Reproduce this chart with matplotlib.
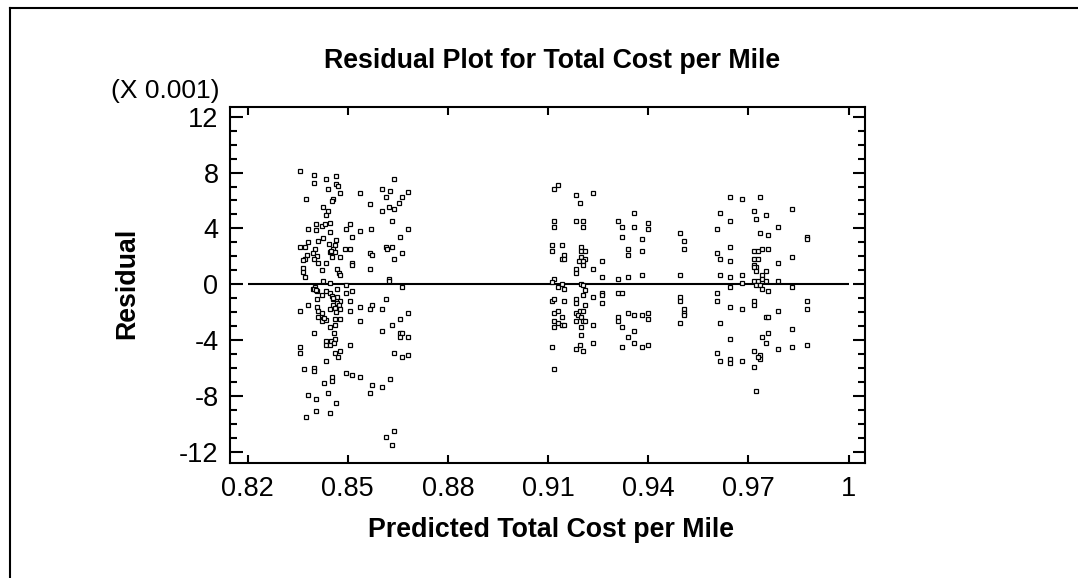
import matplotlib
matplotlib.use('Agg')
import matplotlib.pyplot as plt
from matplotlib.lines import Line2D
from matplotlib.ticker import MultipleLocator

# predicted total cost per mile and residuals (in units of 0.001), by band of fitted values
pred_low = [
    0.8357, 0.8399, 0.8399, 0.8434, 0.8464, 0.8464, 0.8472, 0.8440, 0.8477, 0.8639,
    0.8536, 0.8604, 0.8627, 0.8680, 0.8662, 0.8615, 0.8374, 0.8457, 0.8452, 0.8654,
    0.8566, 0.8427, 0.8440, 0.8434, 0.8603, 0.8625, 0.8639, 0.8633, 0.8406, 0.8405,
    0.8381, 0.8423, 0.8433, 0.8447, 0.8447, 0.8507, 0.8494, 0.8537, 0.8570, 0.8680,
    0.8513, 0.8657, 0.8427, 0.8412, 0.8380, 0.8464, 0.8443, 0.8461, 0.8357, 0.8371,
    0.8493, 0.8507, 0.8615, 0.8633, 0.8617, 0.8403, 0.8397, 0.8457, 0.8447, 0.8463,
    0.8566, 0.8574, 0.8662, 0.8377, 0.8371, 0.8367, 0.8408, 0.8398, 0.8452, 0.8477,
    0.8639, 0.8411, 0.8434, 0.8513, 0.8512, 0.8367, 0.8367, 0.8372, 0.8422, 0.8469,
    0.8475, 0.8477, 0.8566, 0.8427, 0.8447, 0.8625, 0.8625, 0.8450,
    0.8494, 0.8663, 0.8397, 0.8403, 0.8407, 0.8434, 0.8447, 0.8467, 0.8494, 0.8513,
    0.8423, 0.8452, 0.8467, 0.8457, 0.8477, 0.8467, 0.8409, 0.8507, 0.8615, 0.8381,
    0.8357, 0.8408, 0.8411, 0.8423, 0.8457, 0.8475, 0.8467, 0.8477, 0.8447, 0.8537,
    0.8567, 0.8573, 0.8603, 0.8507, 0.8680, 0.8411, 0.8427, 0.8423, 0.8435, 0.8477,
    0.8463, 0.8537, 0.8657, 0.8633, 0.8447, 0.8463, 0.8399, 0.8458, 0.8603, 0.8657,
    0.8663, 0.8657, 0.8680, 0.8463, 0.8451, 0.8435, 0.8435, 0.8447, 0.8460, 0.8507,
    0.8357, 0.8357, 0.8477, 0.8463, 0.8470, 0.8639, 0.8663, 0.8680, 0.8435, 0.8369,
    0.8399, 0.8399, 0.8494, 0.8513, 0.8537, 0.8453, 0.8453, 0.8428, 0.8627, 0.8573,
    0.8603, 0.8567, 0.8381, 0.8441, 0.8405, 0.8465, 0.8405, 0.8447, 0.8375, 0.8639,
    0.8615, 0.8633, 0.8400, 0.8404, 0.8455, 0.8461, 0.8429, 0.8465,
]
resid_low = [
    8.14, 7.85, 7.28, 7.56, 7.73, 7.16, 7.02, 6.85, 6.56, 7.54,
    6.56, 6.85, 6.71, 6.59, 6.28, 6.28, 6.11, 6.13, 5.99, 5.85,
    5.73, 5.56, 5.27, 4.99, 5.25, 5.56, 5.42, 4.56, 4.32, 3.89,
    3.94, 4.18, 4.32, 4.42, 3.77, 4.30, 3.96, 3.84, 3.99, 3.99,
    3.39, 3.41, 3.32, 3.13, 3.03, 3.18, 2.87, 2.84, 2.70, 2.70,
    2.56, 2.56, 2.65, 2.70, 2.56, 2.51, 2.27, 2.51, 2.32, 2.29,
    2.27, 2.10, 2.27, 2.10, 1.84, 1.75, 2.03, 1.79, 1.98, 1.98,
    1.84, 1.55, 1.55, 1.55, 1.39, 1.17, 0.89, 0.50, 1.03, 1.13,
    0.79, 0.65, 1.13, 0.27, 0.12, 0.41, 0.27, 2.40,
    -0.02, -0.16, -0.35, -0.21, -0.45, -0.45, -0.59, -0.30, -0.59, -0.45,
    -0.73, -0.83, -0.88, -1.07, -1.16, -1.31, -1.02, -1.16, -1.02, -1.45,
    -1.88, -1.59, -1.88, -2.02, -1.50, -1.50, -1.78, -1.78, -1.74, -1.59,
    -1.74, -1.45, -1.74, -1.88, -2.02, -2.31, -2.45, -2.64, -2.55, -2.45,
    -2.50, -2.59, -2.45, -2.88, -3.02, -2.88, -3.45, -3.45, -3.31, -3.45,
    -3.45, -3.74, -3.74, -3.88, -4.03, -4.03, -4.31, -4.31, -4.17, -4.31,
    -4.45, -4.88, -4.74, -4.88, -5.17, -4.88, -5.17, -5.03, -5.46, -6.03,
    -5.98, -6.17, -6.32, -6.46, -6.60, -6.60, -6.89, -7.03, -6.74, -7.17,
    -7.32, -7.75, -7.89, -7.75, -8.17, -8.46, -9.03, -9.18, -9.46, -10.46,
    -10.89, -11.47, -0.30, -0.40, -0.98, -1.70, -2.40, -2.00,
]

pred_mid = [
    0.9117, 0.9129, 0.9183, 0.9195, 0.9236, 0.9357, 0.9117, 0.9117, 0.9183, 0.9206,
    0.9206, 0.9309, 0.9321, 0.9357, 0.9399, 0.9399, 0.9321, 0.9381, 0.9111, 0.9111,
    0.9141, 0.9200, 0.9200, 0.9212, 0.9147, 0.9141, 0.9147, 0.9200, 0.9212, 0.9194,
    0.9206, 0.9206, 0.9261, 0.9339, 0.9339, 0.9381, 0.9183, 0.9183, 0.9236, 0.9261,
    0.9309, 0.9339, 0.9381, 0.9117, 0.9111,
    0.9129, 0.9141, 0.9147, 0.9200, 0.9206, 0.9212, 0.9206, 0.9236, 0.9261, 0.9261,
    0.9309, 0.9321, 0.9111, 0.9117, 0.9147, 0.9183, 0.9183, 0.9212, 0.9261, 0.9117,
    0.9129, 0.9141, 0.9183, 0.9189, 0.9195, 0.9206, 0.9200, 0.9117, 0.9117, 0.9129,
    0.9141, 0.9147, 0.9183, 0.9206, 0.9212, 0.9200, 0.9236, 0.9309, 0.9309, 0.9321,
    0.9339, 0.9357, 0.9381, 0.9399, 0.9399, 0.9200, 0.9357, 0.9339, 0.9111, 0.9183,
    0.9195, 0.9206, 0.9236, 0.9321, 0.9357, 0.9381, 0.9399, 0.9117,
]
resid_mid = [
    6.85, 7.14, 6.42, 5.85, 6.56, 5.13, 4.56, 4.13, 4.56, 4.56,
    4.13, 4.56, 4.13, 4.13, 4.42, 3.99, 3.41, 3.27, 2.84, 2.41,
    2.84, 2.70, 2.41, 2.41, 2.13, 1.84, 1.84, 1.98, 1.84, 1.70,
    1.70, 1.41, 1.70, 2.56, 2.13, 2.41, 1.13, 0.84, 1.13, 0.55,
    0.41, 0.55, 0.70, 0.41, 0.17,
    -0.16, 0.03, -0.30, 0.03, -0.02, -0.40, -0.73, -0.88, -0.59, -0.73,
    -0.59, -0.59, -1.16, -1.02, -1.16, -1.02, -1.35, -1.45, -1.31, -2.02,
    -1.88, -2.31, -2.02, -2.17, -1.88, -1.88, -2.31, -2.59, -3.02, -2.74,
    -2.88, -2.88, -2.59, -2.59, -2.59, -3.02, -2.88, -2.31, -2.59, -3.02,
    -2.02, -2.17, -2.17, -2.02, -2.45, -3.60, -3.31, -3.74, -4.45, -4.60,
    -4.31, -4.74, -4.17, -4.45, -4.17, -4.45, -4.31, -6.03,
]

pred_high = [
    0.9644, 0.9680, 0.9734, 0.9614, 0.9644, 0.9716, 0.9722, 0.9752, 0.9830, 0.9494,
    0.9506, 0.9506, 0.9607, 0.9734, 0.9758, 0.9788, 0.9876, 0.9876, 0.9644, 0.9607,
    0.9614, 0.9644, 0.9716, 0.9728, 0.9740, 0.9758, 0.9716, 0.9728, 0.9716, 0.9722,
    0.9716, 0.9788, 0.9830, 0.9752, 0.9722, 0.9740, 0.9494, 0.9614, 0.9644, 0.9680,
    0.9680, 0.9716, 0.9728, 0.9740, 0.9752, 0.9788, 0.9722, 0.9734,
    0.9644, 0.9740, 0.9758, 0.9830, 0.9494, 0.9494, 0.9607, 0.9607, 0.9644, 0.9680,
    0.9716, 0.9716, 0.9788, 0.9876, 0.9876, 0.9506, 0.9506, 0.9506, 0.9494, 0.9614,
    0.9752, 0.9758, 0.9830, 0.9644, 0.9758, 0.9740, 0.9752, 0.9788, 0.9830, 0.9876,
    0.9607, 0.9716, 0.9734, 0.9734, 0.9728, 0.9614, 0.9644, 0.9644, 0.9680, 0.9716,
    0.9722,
]
resid_high = [
    6.28, 6.11, 6.28, 5.13, 4.56, 5.25, 4.68, 4.99, 5.42, 3.70,
    3.13, 2.56, 3.99, 3.70, 3.56, 4.13, 3.42, 3.27, 2.70, 2.27,
    1.84, 1.70, 2.41, 2.41, 2.56, 2.56, 1.84, 1.84, 1.41, 1.27,
    1.27, 1.56, 1.99, 0.98, 0.98, 0.70, 0.70, 0.70, 0.55, 0.70,
    0.12, 0.27, 0.27, 0.41, 0.27, 0.27, -0.02, -0.02,
    -0.16, -0.30, -0.45, -0.16, -0.88, -1.16, -0.59, -1.16, -1.59, -1.74,
    -1.16, -1.45, -1.88, -1.16, -1.74, -1.74, -2.02, -2.17, -2.74, -2.74,
    -2.31, -2.31, -3.17, -3.88, -3.45, -3.74, -4.17, -4.60, -4.45, -4.31,
    -4.88, -4.74, -5.03, -5.31, -5.17, -5.46, -5.31, -5.60, -5.46, -5.89,
    -7.60,
]

x_ticks = [0.82, 0.85, 0.88, 0.91, 0.94, 0.97, 1.0]
x_labels = ['0.82', '0.85', '0.88', '0.91', '0.94', '0.97', '1']
y_ticks = [-12, -8, -4, 0, 4, 8, 12]
y_labels = ['-12', '-8', '-4', '0', '4', '8', '12']

plt.rcParams['font.family'] = ['Liberation Sans', 'DejaVu Sans']

fig = plt.figure(figsize=(10.78, 5.78), dpi=100)
ax = fig.add_axes([0.2129, 0.1997, 0.5895, 0.6152])

# zero reference line across the tick range
ax.hlines(0, x_ticks[0], x_ticks[-1], colors='black', linewidth=1.5, zorder=1)

for px, rs in [(pred_low, resid_low), (pred_mid, resid_mid), (pred_high, resid_high)]:
    ax.plot(px, rs, 's', linestyle='none', markersize=2.4, markerfacecolor='white',
            markeredgecolor='black', markeredgewidth=0.9, zorder=2)

ax.set_xlim(0.8146, 1.0049)
ax.set_ylim(-12.75, 12.69)
ax.set_xticks(x_ticks)
ax.set_xticklabels(x_labels)
ax.set_yticks(y_ticks)
ax.set_yticklabels(y_labels)
ax.yaxis.set_minor_locator(MultipleLocator(1))

ax.tick_params(axis='both', which='both', direction='in', top=True, right=True,
               width=1.5, labelsize=19.5)
ax.tick_params(axis='x', which='major', length=6, pad=10)
ax.tick_params(axis='y', which='major', length=9, pad=8)
ax.tick_params(axis='y', which='minor', length=4.7)
for s in ax.spines.values():
    s.set_linewidth(1.5)

fig.text(0.512, 0.8945, 'Residual Plot for Total Cost per Mile', ha='center', va='center',
         fontsize=19.3, fontweight='bold')
fig.text(0.511, 0.083, 'Predicted Total Cost per Mile', ha='center', va='center',
         fontsize=19.3, fontweight='bold')
fig.text(0.118, 0.5104, 'Residual', ha='center', va='center', rotation=90,
         fontsize=19.3, fontweight='bold')
fig.text(0.204, 0.8426, '(X 0.001)', ha='right', va='center', fontsize=19)

# outer frame, left and top edges only
fig.add_artist(Line2D([10 / 1078, 10 / 1078], [0, 1 - 8 / 578], color='black', linewidth=1.5))
fig.add_artist(Line2D([10 / 1078, 1], [1 - 8 / 578, 1 - 8 / 578], color='black', linewidth=1.5))

fig.savefig('out.png', dpi=100)
